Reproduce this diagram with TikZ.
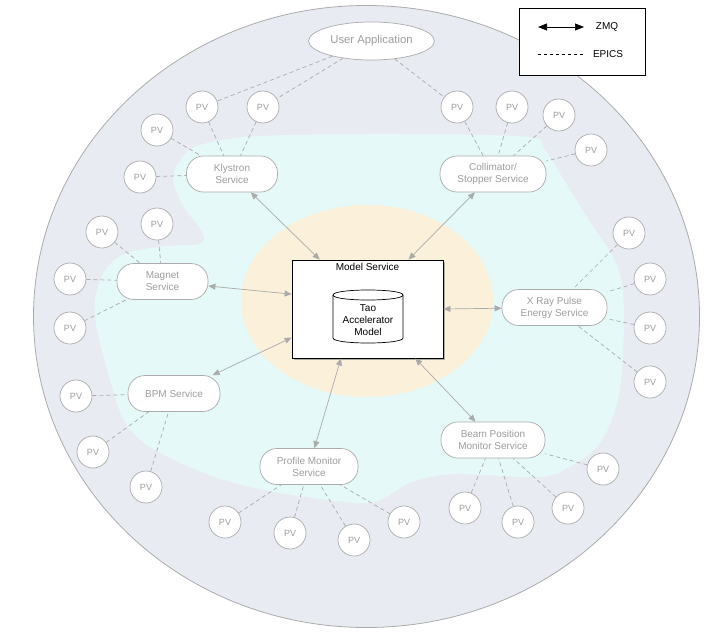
\documentclass[tikz,border=0pt]{standalone}
\usepackage{fontspec}
\setmainfont{Liberation Sans}
\usetikzlibrary{arrows.meta,shapes.geometric,shadows,calc}
\definecolor{outerc}{HTML}{E9EBF3}
\definecolor{cyanc}{HTML}{E4F9F8}
\definecolor{orangec}{HTML}{FBF0DA}
\definecolor{linec}{HTML}{ABABAB}
\definecolor{textc}{HTML}{9D9D9D}
\begin{document}
\begin{tikzpicture}[x=1pt,y=-1pt,
  svc/.style={draw=linec, fill=white, rounded corners=17pt, minimum height=36pt, align=center, text=textc, font=\fontsize{10}{12}\selectfont, inner sep=0pt, line width=0.7pt},
  pv/.style={circle, draw=linec, fill=white, minimum size=32pt, inner sep=0pt, text=textc, font=\fontsize{9}{10}\selectfont, line width=0.7pt},
  epics/.style={draw=linec, dash pattern=on 4pt off 3pt, line width=0.7pt},
  zmq/.style={draw=linec, line width=0.7pt, {Triangle[length=7pt,width=6pt]}-{Triangle[length=7pt,width=6pt]}},
  legtext/.style={font=\fontsize{10}{12}\selectfont, text=black}
]
\useasboundingbox (0,0) rectangle (707,632);
% regions
\draw[fill=outerc, draw=linec, line width=0.8pt] (366.5,316.5) ellipse [x radius=333, y radius=311];
\fill[cyanc] plot[smooth cycle, tension=0.55] coordinates {
 (180,160) (200,145) (260,136) (400,134) (527,137) (545,150) (570,190) (590,222)
 (613,257) (622,285) (624,330) (619,395) (602,440) (576,463) (540,477) (455,474)
 (412,482) (382,499) (358,503) (280,493) (215,477) (150,447) (124,420) (110,380)
 (97,330) (95,300) (105,270) (127,253) (167,246) (200,244) (202,232) (184,207) (173,180)};
\fill[orangec] (367,301) ellipse [x radius=126, y radius=96];

% legend
\node[draw=black, fill=white, minimum width=126pt, minimum height=67pt, line width=0.7pt] (leg) at (582,41.5) {};
\coordinate (z1) at (538,27);
\coordinate (z2) at (584,27);
\draw[black, line width=0.7pt, {Triangle[length=9pt,width=7pt]}-{Triangle[length=9pt,width=7pt]}] (z1) -- (z2);
\node[legtext] (zt) at (607,27) {ZMQ};
\coordinate (e1) at (538,54);
\coordinate (e2) at (583,54);
\draw[black, dash pattern=on 3pt off 3pt, line width=0.6pt] (e1) -- (e2);
\node[legtext] (et) at (608,54) {EPICS};

% model service
\node[draw=black, fill=white, minimum width=151pt, minimum height=98pt, line width=0.8pt,
      drop shadow={opacity=0.6, shadow xshift=1.5pt, shadow yshift=-1.5pt}] (ms) at (367.5,309) {};
\node[legtext] (mst) at (367.5,267) {Model Service};
% database cylinder
\draw[fill=white, line width=0.7pt] (333,295) -- (333,338) .. controls (333,344.67) and (403,344.67) .. (403,338)
  -- (403,295) .. controls (403,288.33) and (333,288.33) .. (333,295) -- cycle;
\draw[line width=0.7pt] (333,295) .. controls (333,301.67) and (403,301.67) .. (403,295);
\node[align=center, font=\fontsize{10}{12.3}\selectfont, inner sep=0pt] (taot) at (368,320) {Tao\\Accelerator\\Model};

% user application
\node[ellipse, draw=linec, fill=white, minimum width=125pt, minimum height=38pt, text=textc,
      font=\fontsize{11.3}{13}\selectfont, line width=0.7pt] (ua) at (371.5,41) {User Application};

% services
\node[svc, minimum width=91pt] (kly) at (232,174) {Klystron\\Service};
\node[svc, minimum width=91pt] (mag) at (162.5,281.5) {Magnet\\Service};
\node[svc, minimum width=106pt] (col) at (493,174) {Collimator/\\Stopper Service};
\node[svc, minimum width=105pt] (xray) at (554.5,307.5) {X Ray Pulse\\Energy Service};
\node[svc, minimum width=92pt] (bpm) at (174,393.5) {BPM Service};
\node[svc, minimum width=98pt] (prof) at (309,466.5) {Profile Monitor\\Service};
\node[svc, minimum width=104pt] (beam) at (493,440) {Beam Position\\Monitor Service};

% PVs
\node[pv] (kA) at (202,107) {PV};
\node[pv] (kB) at (263,107) {PV};
\node[pv] (kC) at (157,130) {PV};
\node[pv] (kD) at (140,177) {PV};
\node[pv] (mA) at (157,224) {PV};
\node[pv] (mB) at (102,232) {PV};
\node[pv] (mC) at (70,279) {PV};
\node[pv] (mD) at (70,328) {PV};
\node[pv] (cA) at (457,107) {PV};
\node[pv] (cB) at (512,107) {PV};
\node[pv] (cC) at (559,115) {PV};
\node[pv] (cD) at (591,150) {PV};
\node[pv] (xA) at (629,233) {PV};
\node[pv] (xB) at (650,279) {PV};
\node[pv] (xC) at (650,328) {PV};
\node[pv] (xD) at (650,382) {PV};
\node[pv] (bA) at (76,396) {PV};
\node[pv] (bB) at (93,452) {PV};
\node[pv] (bC) at (146,487) {PV};
\node[pv] (pA) at (225,522) {PV};
\node[pv] (pB) at (290,533) {PV};
\node[pv] (pC) at (354,540) {PV};
\node[pv] (pD) at (404,522) {PV};
\node[pv] (eA) at (465,508) {PV};
\node[pv] (eB) at (518,522) {PV};
\node[pv] (eC) at (568,508) {PV};
\node[pv] (eD) at (603,469) {PV};

% EPICS connections
\foreach \a/\b in {ua/kA, ua/kB, ua/cA,
  kA/kly, kB/kly, kC/kly, kD/kly,
  mA/mag, mB/mag, mC/mag, mD/mag,
  cA/col, cB/col, cC/col, cD/col,
  xA/xray, xB/xray, xC/xray, xD/xray,
  bA/bpm, bB/bpm, bC/bpm,
  pA/prof, pB/prof, pC/prof, pD/prof,
  eA/beam, eB/beam, eC/beam, eD/beam}
  \draw[epics] (\a) -- (\b);

% ZMQ connections
\coordinate (tk) at ($(ms.north west)!0.185!(ms.north east)$);
\coordinate (tc) at ($(ms.north west)!0.77!(ms.north east)$);
\coordinate (lm) at ($(ms.north west)!0.35!(ms.south west)$);
\coordinate (lb) at ($(ms.north west)!0.79!(ms.south west)$);
\coordinate (bp) at ($(ms.south west)!0.325!(ms.south east)$);
\coordinate (bb) at ($(ms.south west)!0.815!(ms.south east)$);
\draw[zmq] (kly) -- (tk);
\draw[zmq] (col) -- (tc);
\draw[zmq] (mag) -- (lm);
\draw[zmq] (bpm) -- (lb);
\draw[zmq] (xray) -- (ms.east);
\draw[zmq] (prof) -- (bp);
\draw[zmq] (beam) -- (bb);
\end{tikzpicture}
\end{document}
